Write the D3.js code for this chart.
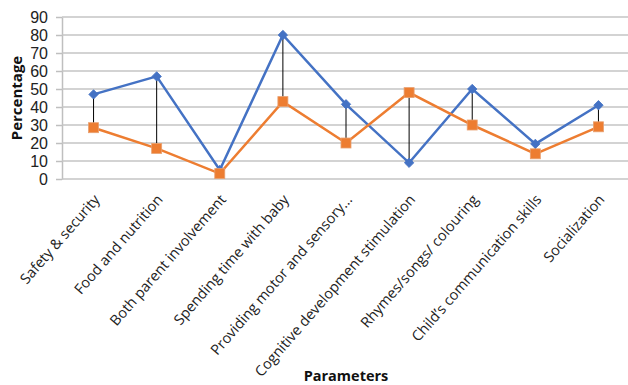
<!DOCTYPE html>
<html>
<head>
<meta charset="utf-8">
<script src="https://cdn.jsdelivr.net/npm/d3@7"></script>
<style>
  html, body { margin: 0; padding: 0; background: #fff; }
  svg { display: block; font-family: "Open Sans", "Noto Sans", sans-serif; }
</style>
</head>
<body>
<svg id="chart" width="628" height="385"></svg>
<script>
// Parameters shown along the x axis
const categories = [
  "Safety & security",
  "Food and nutrition",
  "Both parent involvement",
  "Spending time with baby",
  "Providing motor and sensory...",
  "Cognitive development stimulation",
  "Rhymes/songs/ colouring",
  "Child\u2019s communication skills",
  "Socialization"
];
// Two series of percentages (blue diamonds, orange squares)
const seriesA = [47, 57, 5, 80, 41.5, 9, 50, 19.5, 41];
const seriesB = [28.5, 17, 3, 43, 20, 48, 30, 14, 29];
const yTicks = [0, 10, 20, 30, 40, 50, 60, 70, 80, 90];

const svg = d3.select("#chart");
const margin = { top: 17, right: 0, bottom: 206, left: 62 };
const W = 628, H = 385;

const x = d3.scaleBand().domain(categories)
  .range([margin.left, W - margin.right + 2]).padding(0);
const y = d3.scaleLinear().domain([0, 90]).range([H - margin.bottom, margin.top]);
const cx = d => x(d) + x.bandwidth() / 2;

// Y axis with short outer ticks
const yAxis = svg.append("g")
  .attr("transform", `translate(${margin.left},0)`)
  .call(d3.axisLeft(y).tickValues(yTicks).tickSize(6).tickSizeOuter(0).tickPadding(8));
yAxis.select(".domain").attr("stroke", "#bfbfbf").attr("stroke-width", 1.5);
yAxis.selectAll(".tick line").attr("stroke", "#bfbfbf").attr("stroke-width", 1.5);
yAxis.selectAll(".tick text")
  .attr("font-size", 16).attr("fill", "#222")
  .style("font-family", "'Liberation Sans Narrow', 'Liberation Sans', sans-serif");

// Horizontal gridlines
svg.append("g").selectAll("line").data(yTicks).join("line")
  .attr("x1", margin.left).attr("x2", W)
  .attr("y1", d => y(d)).attr("y2", d => y(d))
  .attr("stroke", "#c4c4c4").attr("stroke-width", 1.5);

// High-low connector lines between the two series
svg.append("g").selectAll("line").data(categories).join("line")
  .attr("x1", d => cx(d)).attr("x2", d => cx(d))
  .attr("y1", (d, i) => y(seriesA[i])).attr("y2", (d, i) => y(seriesB[i]))
  .attr("stroke", "#000").attr("stroke-width", 1);

const line = d3.line().x(d => cx(d[0])).y(d => y(d[1]));
const blue = "#4472C4", orange = "#ED7D31";

// Series A: line with diamond markers (square turned 45 degrees)
svg.append("path")
  .datum(categories.map((c, i) => [c, seriesA[i]]))
  .attr("d", line).attr("fill", "none").attr("stroke", blue).attr("stroke-width", 2.5);
svg.append("g").selectAll("path").data(categories).join("path")
  .attr("d", d3.symbol(d3.symbolSquare, 44))
  .attr("transform", (d, i) => `translate(${cx(d)},${y(seriesA[i])}) rotate(45)`)
  .attr("fill", blue).attr("stroke", blue).attr("stroke-width", 0.8);

// Series B: line with square markers
svg.append("path")
  .datum(categories.map((c, i) => [c, seriesB[i]]))
  .attr("d", line).attr("fill", "none").attr("stroke", orange).attr("stroke-width", 2.5);
svg.append("g").selectAll("rect").data(categories).join("rect")
  .attr("x", d => cx(d) - 5).attr("y", (d, i) => y(seriesB[i]) - 5)
  .attr("width", 10).attr("height", 10)
  .attr("fill", orange).attr("stroke", "#e8a070").attr("stroke-width", 0.8);

// Rotated category labels
svg.append("g").selectAll("text").data(categories).join("text")
  .attr("transform", d => `translate(${cx(d) + 7},${200}) rotate(-49)`)
  .attr("text-anchor", "end")
  .attr("font-size", 14.5).attr("fill", "#222")
  .text(d => d);

// Axis titles
svg.append("text")
  .attr("transform", `translate(22,${(margin.top + H - margin.bottom) / 2}) rotate(-90)`)
  .attr("text-anchor", "middle")
  .attr("font-size", 15).attr("font-weight", "bold").attr("fill", "#111")
  .text("Percentage");

svg.append("text")
  .attr("x", 346).attr("y", 381)
  .attr("text-anchor", "middle")
  .attr("font-size", 14.5).attr("font-weight", "bold").attr("fill", "#111")
  .text("Parameters");
</script>
</body>
</html>
